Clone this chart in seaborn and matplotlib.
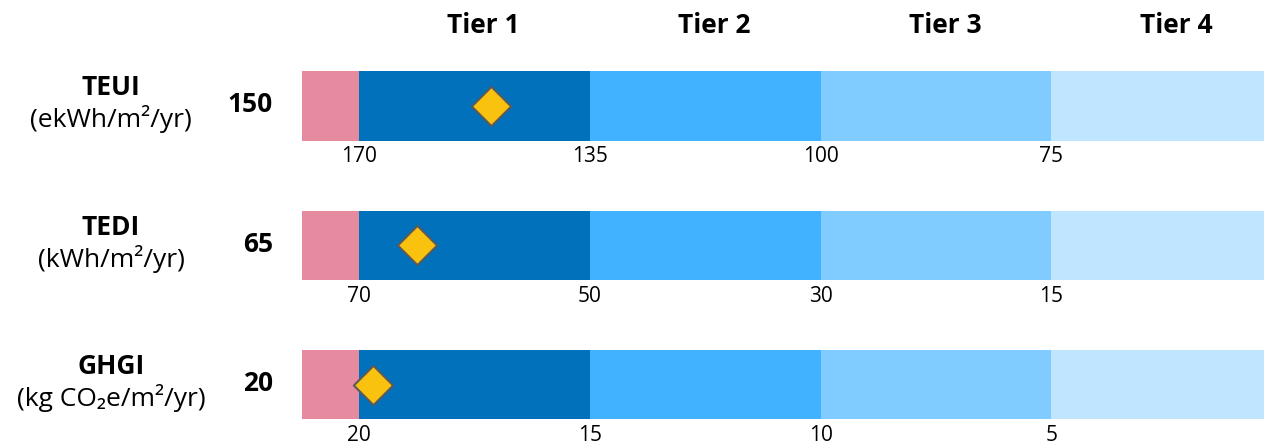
import seaborn as sns
import matplotlib.pyplot as plt
import matplotlib.transforms as mtransforms
import pandas as pd
import numpy as np

# Data
metrics = ["TEUI", "TEDI", "GHGI"]
units = ["(ekWh/m²/yr)", "(kWh/m²/yr)", "(kg CO₂e/m²/yr)"]
values = [150, 65, 20]
bounds = {
    "TEUI": [170, 135, 100, 75],
    "TEDI": [70, 50, 30, 15],
    "GHGI": [20, 15, 10, 5],
}
tiers = ["Tier 1", "Tier 2", "Tier 3", "Tier 4"]

pink = "#E58A9F"
tier_colors = ["#0071BA", "#40B2FF", "#80CBFF", "#BFE5FF"]

sns.set_theme(style="white")
plt.rcParams["font.family"] = ["Open Sans", "DejaVu Sans"]

fig = plt.figure(figsize=(12.64, 4.43), dpi=100)
ax = fig.add_axes([302 / 1264, 0, 1 - 302 / 1264, 1])

# marker position in tier units (0 = start of tier 1)
pos = []
for m, v in zip(metrics, values):
    b = np.array(bounds[m], dtype=float)
    p = np.interp(-v, -b, np.arange(len(b)))
    pos.append(max(p, 0.06))
df = pd.DataFrame({"metric": metrics, "row": range(len(metrics)), "pos": pos})

bar_h = 0.495
for i, m in enumerate(metrics):
    ax.barh(i, 0.247, left=-0.247, height=bar_h, color=pink, linewidth=0)
    for k, c in enumerate(tier_colors):
        ax.barh(i, 1, left=k, height=bar_h, color=c, linewidth=0)
    for k, b in enumerate(bounds[m]):
        ax.text(k, i + bar_h / 2 + 0.115, str(b), ha="center", va="center",
                fontsize=15, color="black")

sns.scatterplot(data=df, x="pos", y="row", marker="D", s=400, color="#F9C20E",
                edgecolor="#5A5A5A", linewidth=1.5, zorder=5, ax=ax, legend=False)

for k, t in enumerate(tiers):
    ax.text(k + 0.5 + 0.04, -0.58, t, ha="center", va="center",
            fontsize=19, fontweight="bold", color="black")

tr = mtransforms.blended_transform_factory(fig.transFigure, ax.transData)
for i, (m, u, v) in enumerate(zip(metrics, units, values)):
    ax.text(111 / 1264, i - 0.13, m, transform=tr, ha="center", va="center",
            fontsize=19, fontweight="bold", color="black")
    ax.text(111 / 1264, i + 0.095, u, transform=tr, ha="center", va="center",
            fontsize=19, color="black")
    ax.text(273 / 1264, i - 0.01, str(v), transform=tr, ha="right", va="center",
            fontsize=19, fontweight="bold", color="black")

ax.set_xlim(-0.247, 3.921)
ax.set_ylim(2.416, -0.760)
ax.axis("off")

fig.savefig("out.png", dpi=100)
plt.close()
